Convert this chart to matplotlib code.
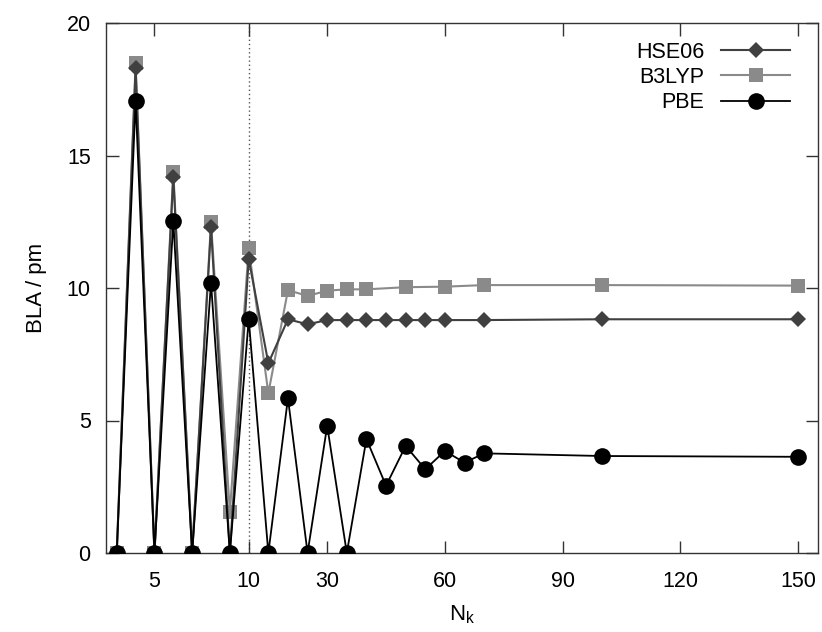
import numpy as np
import matplotlib
matplotlib.use("Agg")
import matplotlib.pyplot as plt

plt.rcParams['font.family'] = ['Liberation Sans', 'DejaVu Sans']

# Data
n_hse = [3, 4, 5, 6, 7, 8, 9, 10, 15, 20, 25, 30, 35, 40, 45, 50, 55, 60, 70, 100, 150]
hse06 = [0, 18.3, 0, 14.2, 0, 12.3, 0, 11.1, 7.16, 8.82, 8.63, 8.79, 8.79, 8.79, 8.79, 8.79, 8.79, 8.79, 8.79, 8.82, 8.82]

n_b3 = [3, 4, 5, 6, 7, 8, 9, 10, 15, 20, 25, 30, 35, 40, 50, 60, 70, 100, 150]
b3lyp = [0, 18.48, 0, 14.39, 0, 12.48, 1.55, 11.5, 6.03, 9.92, 9.70, 9.90, 9.95, 9.95, 10.03, 10.05, 10.11, 10.11, 10.09]

n_pbe = [3, 4, 5, 6, 7, 8, 9, 10, 15, 20, 25, 30, 35, 40, 45, 50, 55, 60, 65, 70, 100, 150]
pbe = [0, 17.07, 0, 12.53, 0, 10.2, 0, 8.82, 0, 5.84, 0, 4.80, 0, 4.30, 2.54, 4.04, 3.16, 3.85, 3.41, 3.76, 3.66, 3.63]

xticks = [5, 10, 30, 60, 90, 120, 150]
yticks = [0, 5, 10, 15, 20]

R = 0.2081
BREAK = 10.0

def fwd(x):
    x = np.asarray(x, dtype=float)
    return np.where(x <= BREAK, x, BREAK + (x - BREAK) * R)

def inv(y):
    y = np.asarray(y, dtype=float)
    return np.where(y <= BREAK, y, BREAK + (y - BREAK) / R)

fig = plt.figure(figsize=(8.22, 6.32), dpi=100)
ax = fig.add_axes([106/822, 1-553/632, (818-106)/822, (553-23)/632])
ax.set_xscale('function', functions=(fwd, inv))

ax.axvline(10, color='#555555', lw=1.0, ls=(0, (1, 2)), zorder=1)

l_b3, = ax.plot(n_b3, b3lyp, color='#8a8a8a', lw=1.5, marker='s', ms=10.5,
                markeredgewidth=0, label='B3LYP', zorder=2)
l_hse, = ax.plot(n_hse, hse06, color='#404040', lw=1.5, marker='D', ms=8.5,
                 markeredgewidth=0, label='HSE06', zorder=3)
l_pbe, = ax.plot(n_pbe, pbe, color='black', lw=1.3, marker='o', ms=12,
                 markeredgewidth=0, label='PBE', zorder=4)

ax.set_xlim(2.43, 155.1)
ax.set_ylim(0, 20)
ax.set_xticks(xticks)
ax.set_xticklabels([str(t) for t in xticks])
ax.minorticks_off()
ax.set_yticks(yticks)
ax.tick_params(direction='in', length=9, width=1.0, top=True, right=True,
               labelsize=15.5, color='#333333')
ax.tick_params(axis='x', pad=13)
ax.tick_params(axis='y', pad=11)
for s in ax.spines.values():
    s.set_linewidth(1.0)
    s.set_color('#333333')

ax.set_xlabel(r'N$_\mathregular{k}$', fontsize=16, labelpad=8)
ax.set_ylabel('BLA / pm', fontsize=16, labelpad=14)

ax.legend(handles=[l_hse, l_b3, l_pbe], loc='upper right', frameon=False,
          markerfirst=False, fontsize=15.5, handlelength=3.2, labelspacing=0.2,
          handletextpad=0.8, borderaxespad=0.0, bbox_to_anchor=(0.973, 0.981))

fig.savefig('out.png', dpi=100)
